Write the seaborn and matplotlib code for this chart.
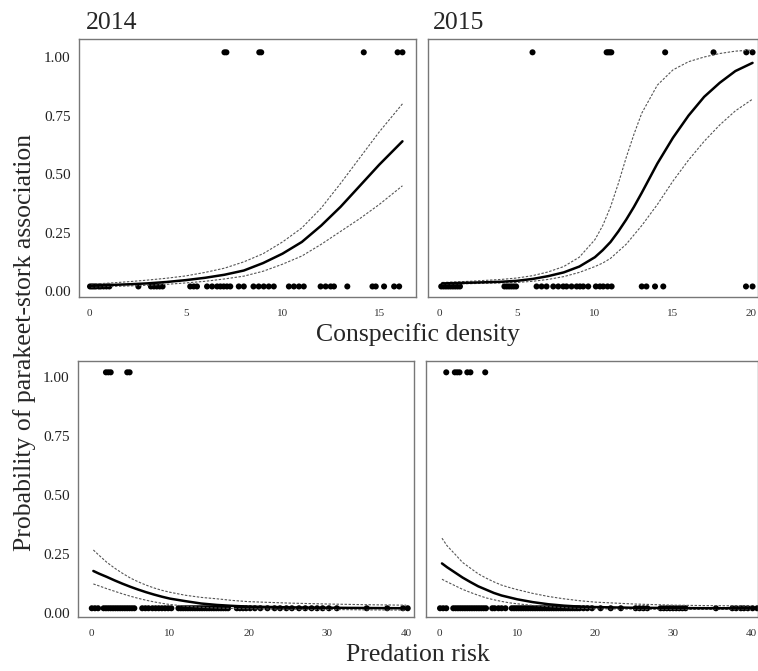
import pandas as pd
import matplotlib
matplotlib.use("Agg")
import matplotlib.pyplot as plt
import seaborn as sns
import numpy as np

# 年份
years = ["2014", "2015"]

# 观测点 (0 = 无关联, 1 = 有关联)，读自原图
dens14_no = [0.05, 0.15, 0.25, 0.35, 0.5, 0.6, 0.75, 0.9, 1.05, 2.55,
             3.2, 3.35, 3.5, 3.65, 3.8, 5.23, 5.41, 5.58, 6.1, 6.36, 6.62,
             6.79, 6.96, 7.13, 7.3, 7.74, 8.0, 8.5, 8.77, 9.03, 9.29, 9.55,
             10.33, 10.59, 10.85, 11.1, 11.97, 12.23, 12.49, 12.66, 13.35,
             14.65, 14.82, 15.25, 15.77, 16.03]
dens14_yes = [7.0, 7.1, 8.8, 8.9, 14.2, 15.95, 16.2]
dens15_no = [0.15, 0.3, 0.45, 0.6, 0.75, 0.9, 1.05, 1.2, 1.35, 4.2, 4.35,
             4.5, 4.65, 4.8, 4.95, 6.26, 6.58, 6.9, 7.33, 7.65, 7.97, 8.18,
             8.5, 8.83, 9.04, 9.25, 9.57, 10.06, 10.32, 10.53, 10.81, 11.07,
             13.0, 13.3, 13.85, 14.38, 19.68, 20.1]
dens15_yes = [6.0, 10.75, 10.85, 10.95, 11.05, 14.5, 17.6, 19.7, 20.1]

pred14_no = [0.1, 0.5, 0.9, 1.6, 1.9, 2.2, 2.5, 2.8, 3.1, 3.4, 3.7, 4.0,
             4.3, 4.6, 4.9, 5.2, 5.5, 6.5, 6.9, 7.3, 7.8, 8.2, 8.6, 9.0, 9.4,
             9.8, 10.2, 11.1, 11.4, 11.7, 12.0, 12.3, 12.6, 12.9, 13.2, 13.5,
             13.8, 14.1, 14.4, 14.7, 15.0, 15.3, 15.6, 15.9, 16.2, 16.5, 16.8,
             17.1, 17.4, 18.5, 18.9, 19.3, 19.7, 20.2, 20.8, 21.5, 22.4, 23.3,
             24.0, 24.8, 25.5, 26.4, 27.2, 28.0, 28.7, 29.4, 30.2, 31.2, 35.0,
             37.6, 39.6, 40.2]
pred14_yes = [1.9, 2.2, 2.5, 4.6, 4.9]
pred15_no = [0.1, 0.5, 0.9, 1.8, 2.1, 2.4, 2.7, 3.0, 3.3, 3.6, 3.9, 4.2,
             4.5, 4.8, 5.1, 5.4, 5.7, 6.0, 6.8, 7.1, 7.6, 8.0, 8.5, 9.3, 9.6,
             9.9, 10.2, 10.5, 10.8, 11.1, 11.4, 11.7, 12.0, 12.3, 12.6, 12.9,
             13.2, 13.5, 13.8, 14.1, 14.4, 14.7, 15.0, 15.3, 15.6, 15.9, 16.2,
             16.5, 16.8, 17.1, 17.4, 17.7, 18.0, 18.5, 19.0, 19.6, 20.7, 22.0,
             23.3, 25.2, 25.7, 26.2, 26.7, 28.4, 28.8, 29.2, 29.6, 30.0, 30.4,
             30.8, 31.2, 31.6, 35.5, 37.6, 38.1, 38.7, 39.1, 39.6, 40.2, 40.8]
pred15_yes = [0.9, 2.0, 2.3, 2.6, 3.6, 4.0, 5.9]

# 拟合曲线及置信区间
fit14_x = [0.1, 1, 2, 3, 4, 5, 6, 7, 8, 9, 10, 11, 12, 13, 14, 15, 16.2]
fit14_mid = [0.023, 0.026, 0.029, 0.033, 0.039, 0.047, 0.057, 0.07, 0.088,
             0.12, 0.16, 0.21, 0.28, 0.36, 0.45, 0.54, 0.64]
fit14_up = [0.03, 0.034, 0.04, 0.047, 0.055, 0.065, 0.08, 0.098, 0.125, 0.16,
            0.21, 0.27, 0.355, 0.46, 0.57, 0.68, 0.80]
fit14_low = [0.018, 0.02, 0.022, 0.025, 0.029, 0.035, 0.042, 0.052, 0.064,
             0.085, 0.115, 0.15, 0.2, 0.255, 0.31, 0.37, 0.45]

fit15_x = [0.2, 2, 4, 5, 6, 7, 8, 9, 10, 10.5, 11, 11.5, 12, 12.5, 13, 14,
           15, 16, 17, 18, 19, 20.1]
fit15_mid = [0.033, 0.036, 0.04, 0.044, 0.052, 0.064, 0.08, 0.105, 0.145,
             0.175, 0.21, 0.255, 0.305, 0.36, 0.42, 0.545, 0.655, 0.75, 0.83,
             0.89, 0.94, 0.975]
fit15_up = [0.037, 0.042, 0.05, 0.056, 0.066, 0.082, 0.105, 0.145, 0.22,
            0.28, 0.36, 0.46, 0.57, 0.67, 0.76, 0.88, 0.945, 0.98, 1.0,
            1.015, 1.025, 1.03]
fit15_low = [0.03, 0.032, 0.035, 0.037, 0.042, 0.05, 0.062, 0.08, 0.105,
             0.12, 0.14, 0.17, 0.2, 0.24, 0.28, 0.37, 0.47, 0.56, 0.64, 0.71,
             0.77, 0.82]

risk14_x = [0.3, 1, 2, 3, 4, 5, 6, 7, 8, 9, 10, 12, 14, 16, 18, 20, 25, 30,
            35, 40]
risk14_mid = [0.178, 0.167, 0.153, 0.138, 0.124, 0.111, 0.099, 0.088, 0.078,
              0.069, 0.061, 0.05, 0.04, 0.034, 0.03, 0.027, 0.024, 0.022,
              0.021, 0.02]
risk14_up = [0.267, 0.245, 0.215, 0.19, 0.168, 0.148, 0.132, 0.118, 0.106,
             0.096, 0.088, 0.075, 0.066, 0.06, 0.053, 0.048, 0.042, 0.038,
             0.035, 0.033]
risk14_low = [0.123, 0.115, 0.103, 0.092, 0.081, 0.071, 0.062, 0.054, 0.047,
              0.041, 0.036, 0.029, 0.024, 0.021, 0.019, 0.018, 0.016, 0.015,
              0.013, 0.012]

risk15_x = [0.35, 1, 2, 3, 4, 5, 6, 7, 8, 9, 10, 12, 14, 16, 18, 20, 25, 30,
            35, 40]
risk15_mid = [0.21, 0.194, 0.172, 0.15, 0.131, 0.113, 0.099, 0.085, 0.074,
              0.066, 0.058, 0.046, 0.037, 0.031, 0.027, 0.025, 0.022, 0.021,
              0.02, 0.02]
risk15_up = [0.317, 0.285, 0.25, 0.214, 0.19, 0.166, 0.148, 0.132, 0.118,
             0.108, 0.099, 0.083, 0.07, 0.06, 0.052, 0.046, 0.038, 0.033,
             0.031, 0.03]
risk15_low = [0.143, 0.132, 0.116, 0.1, 0.087, 0.075, 0.064, 0.056, 0.049,
              0.043, 0.039, 0.032, 0.027, 0.023, 0.02, 0.018, 0.016, 0.015,
              0.015, 0.015]

# 点的纵向偏移 (原图中点画在 0.02 / 1.02)
nudge = 0.02

sns.set_style("white")
plt.rcParams['font.family'] = ['Liberation Serif', 'DejaVu Serif']

fig = plt.figure(figsize=(7.58, 6.71), dpi=100)

positions = [
    [0.1042, 0.5574, 0.4446, 0.3845],
    [0.5646, 0.5574, 0.4354, 0.3845],
    [0.1029, 0.0805, 0.4433, 0.3815],
    [0.5620, 0.0805, 0.4380, 0.3815],
]
panels = [
    (dens14_no, dens14_yes, fit14_x, fit14_mid, fit14_up, fit14_low, (-0.52, 16.9), [0, 5, 10, 15]),
    (dens15_no, dens15_yes, fit15_x, fit15_mid, fit15_up, fit15_low, (-0.7, 20.45), [0, 5, 10, 15, 20]),
    (pred14_no, pred14_yes, risk14_x, risk14_mid, risk14_up, risk14_low, (-1.65, 41.0), [0, 10, 20, 30, 40]),
    (pred15_no, pred15_yes, risk15_x, risk15_mid, risk15_up, risk15_low, (-1.7, 40.9), [0, 10, 20, 30, 40]),
]

for i, (pos, p) in enumerate(zip(positions, panels)):
    no_x, yes_x, fx, fmid, fup, flow, xlim, xticks = p
    ax = fig.add_axes(pos)
    pts = pd.DataFrame({
        "x": list(no_x) + list(yes_x),
        "y": [0 + nudge] * len(no_x) + [1 + nudge] * len(yes_x),
    })
    sns.scatterplot(data=pts, x="x", y="y", ax=ax, color="black", s=19,
                    edgecolor="none", linewidth=0)
    fit = pd.DataFrame({"x": fx, "mid": fmid, "up": fup, "low": flow})
    sns.lineplot(data=fit, x="x", y="up", ax=ax, color="#555555", lw=0.8,
                 linestyle=(0, (2.2, 1.4)))
    sns.lineplot(data=fit, x="x", y="low", ax=ax, color="#555555", lw=0.8,
                 linestyle=(0, (2.2, 1.4)))
    sns.lineplot(data=fit, x="x", y="mid", ax=ax, color="black", lw=1.8)

    ax.set_xlim(*xlim)
    if i < 2:
        ax.set_ylim(-0.025, 1.077)
    else:
        ax.set_ylim(-0.017, 1.068)
    ax.set_xticks(xticks)
    ax.set_yticks([0, 0.25, 0.5, 0.75, 1.0])
    ax.set_xlabel("")
    ax.set_ylabel("")
    ax.tick_params(axis="x", length=0, pad=9, labelsize=8, labelcolor="#333333")
    ax.tick_params(axis="y", length=0, pad=6, labelsize=11, labelcolor="#222222")
    if i % 2 == 0:
        ax.set_yticklabels(["0.00", "0.25", "0.50", "0.75", "1.00"])
    else:
        ax.set_yticklabels([])
    for sp in ax.spines.values():
        sp.set_color("#777777")
        sp.set_linewidth(1.0)

# 年份标题
fig.text(86 / 758, 1 - 29 / 671, years[0], fontsize=18.5, va="baseline", ha="left")
fig.text(433 / 758, 1 - 29 / 671, years[1], fontsize=18.5, va="baseline", ha="left")

# 轴标题
fig.text(418 / 758, 1 - 335 / 671, "Conspecific density", fontsize=18.5,
         ha="center", va="center")
fig.text(418 / 758, 1 - 655 / 671, "Predation risk", fontsize=18.5,
         ha="center", va="center")
fig.text(25 / 758, 1 - 342 / 671, "Probability of parakeet-stork association",
         fontsize=18.5, rotation=90, ha="center", va="center")

plt.savefig("out.png", dpi=100)
plt.close()
